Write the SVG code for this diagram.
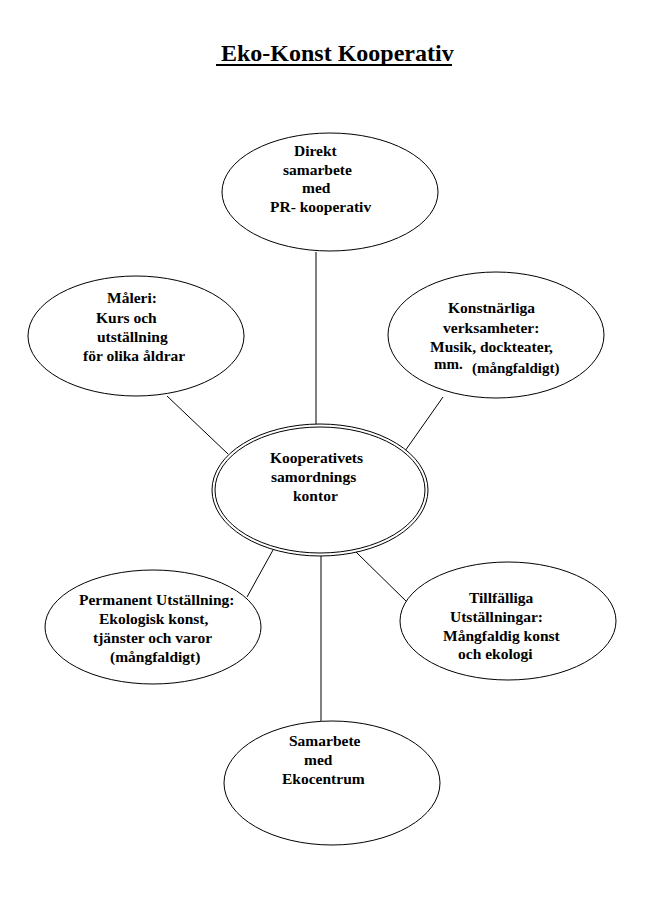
<svg xmlns="http://www.w3.org/2000/svg" width="661" height="900" viewBox="0 0 661 900">
<style>
.n{fill:#fff;stroke:#000;stroke-width:1}
.t{font-family:'Liberation Serif','Times New Roman','DejaVu Serif',serif;font-weight:bold;font-size:15.5px;fill:#000}
.s{font-size:15px}
.c line{stroke:#000;stroke-width:1}
</style>
<rect width="661" height="900" fill="#fff"/>
<text x="221" y="61" class="t" style="font-size:24px">Eko-Konst Kooperativ</text>
<line x1="216" y1="65" x2="452" y2="65" stroke="#000" stroke-width="2"/>
<g class="c" id="connectors">
<line x1="316" y1="252" x2="316" y2="425"/>
<line x1="167" y1="396" x2="228" y2="454"/>
<line x1="443" y1="397" x2="405" y2="451"/>
<line x1="247" y1="597" x2="273" y2="550"/>
<line x1="356" y1="552" x2="408" y2="603"/>
<line x1="321" y1="556" x2="321" y2="721"/>
</g>
<g id="top">
<ellipse class="n" cx="330" cy="192" rx="108" ry="59"/>
<text class="t" x="294" y="156">Direkt</text>
<text class="t" x="283" y="175">samarbete</text>
<text class="t" x="302" y="193">med</text>
<text class="t" x="270" y="212">PR- kooperativ</text>
</g>
<g id="maleri">
<ellipse class="n" cx="136" cy="336" rx="108" ry="60"/>
<text class="t" x="107" y="303">Måleri:</text>
<text class="t" x="96" y="323">Kurs och</text>
<text class="t" x="97" y="342">utställning</text>
<text class="t" x="83" y="361">för olika åldrar</text>
</g>
<g id="konst">
<ellipse class="n" cx="496" cy="335" rx="108" ry="63"/>
<text class="t" x="448" y="313">Konstnärliga</text>
<text class="t" x="443" y="333">verksamheter:</text>
<text class="t" x="430" y="352">Musik, dockteater,</text>
<text class="t s" x="434" y="369">mm.</text>
<text class="t s" x="472" y="373">(mångfaldigt)</text>
</g>
<g id="center">
<ellipse class="n" cx="320" cy="490" rx="108" ry="66"/>
<ellipse cx="320" cy="490" rx="105" ry="63" fill="none" stroke="#000" stroke-width="1"/>
<text class="t" x="270" y="463">Kooperativets</text>
<text class="t" x="271" y="482">samordnings</text>
<text class="t" x="293" y="501">kontor</text>
</g>
<g id="permanent">
<ellipse class="n" cx="153" cy="627" rx="108" ry="57"/>
<text class="t" x="79" y="605">Permanent Utställning:</text>
<text class="t" x="99" y="624">Ekologisk konst,</text>
<text class="t" x="93" y="643">tjänster och varor</text>
<text class="t" x="110" y="662">(mångfaldigt)</text>
</g>
<g id="tillfalliga">
<ellipse class="n" cx="508" cy="621" rx="108" ry="59"/>
<text class="t" x="469" y="603">Tillfälliga</text>
<text class="t" x="450" y="622">Utställningar:</text>
<text class="t" x="443" y="641">Mångfaldig konst</text>
<text class="t" x="458" y="659">och ekologi</text>
</g>
<g id="ekocentrum">
<ellipse class="n" cx="332" cy="783" rx="108" ry="62"/>
<text class="t" x="289" y="746">Samarbete</text>
<text class="t" x="304" y="765">med</text>
<text class="t" x="282" y="784">Ekocentrum</text>
</g>
</svg>
